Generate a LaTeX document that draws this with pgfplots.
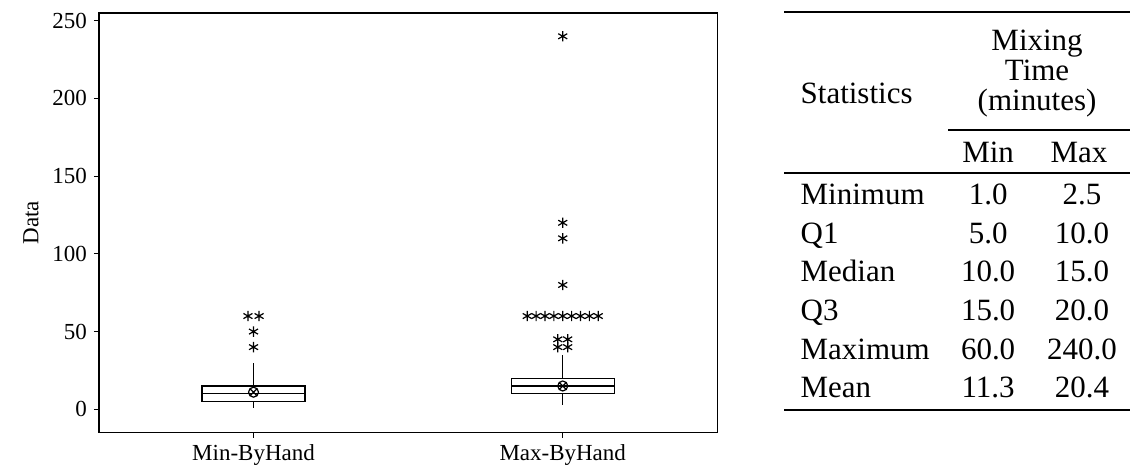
\documentclass[border=0pt]{standalone}
\usepackage{fontspec}
\setmainfont{Liberation Serif}
\usepackage{pgfplots}
\pgfplotsset{compat=1.18}
\usepgfplotslibrary{statistics}
\usetikzlibrary{plotmarks}

\begin{document}
\begin{tikzpicture}
\begin{axis}[
  scale only axis, width=309.5pt, height=210pt,
  xmin=-0.5, xmax=1.5, ymin=-15, ymax=255,
  xtick={0,1}, xticklabels={Min-ByHand,Max-ByHand},
  ytick={0,50,...,250},
  tick align=outside, xtick pos=left, ytick pos=left,
  major tick length=2.5pt,
  ylabel={Data},
  tick label style={font=\fontsize{11.5}{13}\selectfont},
  label style={font=\fontsize{11.5}{13}\selectfont},
  /pgf/number format/assume math mode=true,
  axis line style={line width=0.7pt},
  every tick/.style={black, line width=0.5pt},
  boxplot/draw direction=y,
  clip=false,
]
% boxes
\addplot[black, line width=0.6pt, boxplot prepared={draw position=0,
  lower whisker=1, lower quartile=5, median=10, upper quartile=15,
  upper whisker=30, box extend=0.333, whisker extend=0}] coordinates {};
\addplot[black, line width=0.6pt, boxplot prepared={draw position=1,
  lower whisker=2.5, lower quartile=10, median=15, upper quartile=20,
  upper whisker=35, box extend=0.333, whisker extend=0}] coordinates {};
% outliers
\addplot[only marks, mark=asterisk, mark size=2.6pt, black, line width=0.6pt] coordinates {
  (-0.018,60) (0.018,60) (0,50) (0,40)
  (0.8852,60) (0.9139,60) (0.9426,60) (0.9713,60) (1,60)
  (1.0287,60) (1.0574,60) (1.0861,60) (1.1148,60)
  (0.984,45) (1.016,45) (0.984,40) (1.016,40)
  (1,80) (1,110) (1,120) (1,240)
};
% means as drawn
\addplot[only marks, mark=otimes, mark size=2.5pt, black, line width=0.6pt] coordinates {
  (0,11) (1,15)
};
\end{axis}

% table (coordinates in image pixels)
\begin{scope}[x=0.5pt, y=-0.5pt, shift={(-99,-433)},
  every node/.style={font=\fontsize{15.5}{17}\selectfont, inner sep=0pt}]
\path (0,0) rectangle (1131,465);
\draw[line width=1pt] (785,12) -- (1131,12);
\node[anchor=base west] at (801,104) {Statistics};
\node[anchor=base] at (1038,51) {Mixing};
\node[anchor=base] at (1038,81) {Time};
\node[anchor=base] at (1038,111) {(minutes)};
\draw[line width=1pt] (949,130) -- (1131,130);
\node[anchor=base] at (989,163) {Min};
\node[anchor=base] at (1080,163) {Max};
\draw[line width=1pt] (785,173) -- (1131,173);
\foreach \lab/\a/\b [count=\i from 0] in {Minimum/1.0/2.5, Q1/5.0/10.0, Median/10.0/15.0, Q3/15.0/20.0, Maximum/60.0/240.0, Mean/11.3/20.4} {
  \pgfmathsetmacro{\yy}{205+38.6*\i}
  \node[anchor=base west] at (801,\yy) {\lab};
  \node[anchor=base] at (989,\yy) {\a};
  \node[anchor=base] at (1083,\yy) {\b};
}
\draw[line width=1pt] (785,410) -- (1131,410);
\end{scope}
\end{tikzpicture}
\end{document}
